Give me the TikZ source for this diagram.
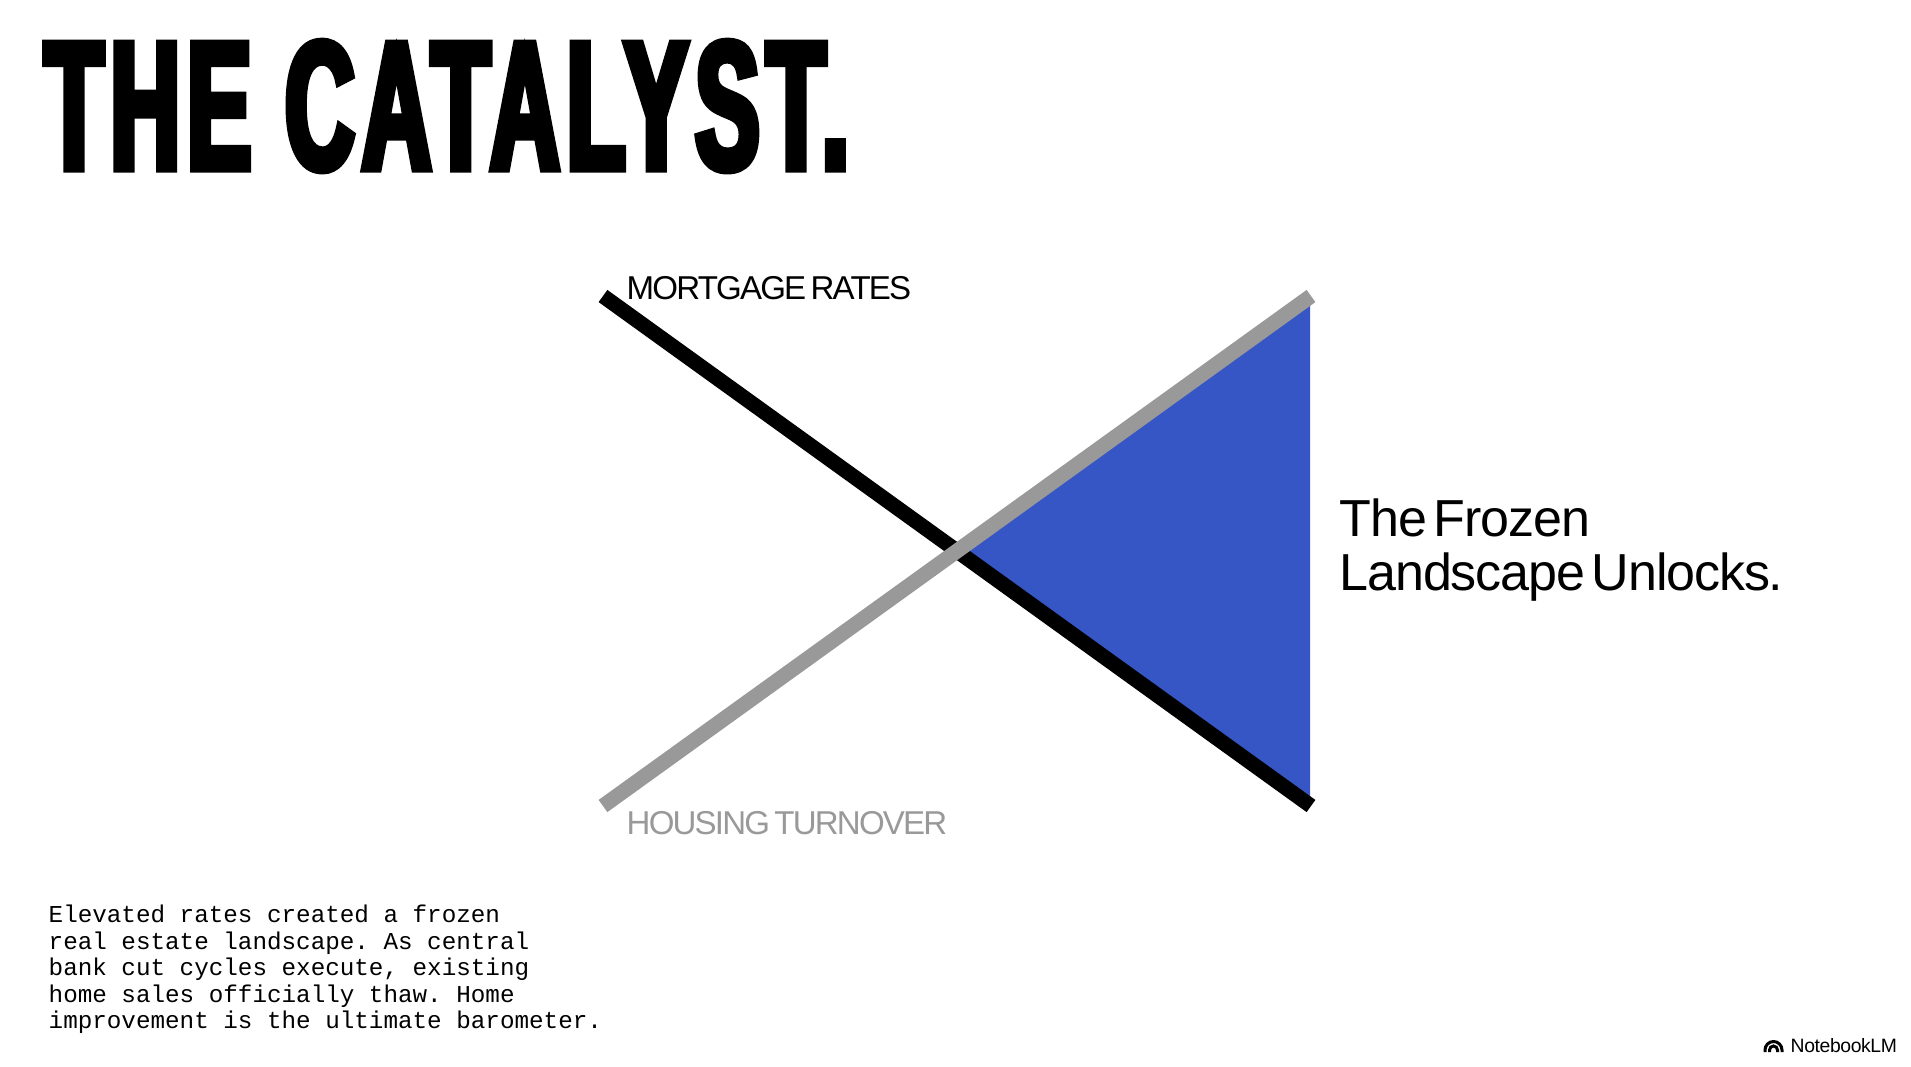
\documentclass[tikz,border=0pt]{standalone}
\usepackage{fontspec}
\setmainfont{Liberation Sans}
\newfontfamily\titlefont[FakeStretch=0.525,FakeBold=4,LetterSpace=4]{Liberation Sans Bold}
\newfontfamily\labelfont[LetterSpace=-5.5,WordSpace=0.6]{Liberation Sans}
\newfontfamily\headfont[LetterSpace=-2.2,WordSpace=0.5]{Liberation Sans}
\newfontfamily\logofont[LetterSpace=-2]{Liberation Sans}
\newfontfamily\bodyfont{Liberation Mono}

\definecolor{crossblue}{HTML}{3756C5}
\definecolor{turnovergray}{HTML}{999999}

\tikzset{
    textnode/.style={inner sep=0pt, anchor=base west},
    trendline/.style={line width=0.15cm},
    logoarc/.style={line width=0.03cm, black},
}

\begin{document}
\frenchspacing
\begin{tikzpicture}[x=0.01cm,y=-0.01cm]
    % Page size, same as the reference
    \useasboundingbox (0,0) rectangle (1911,1066);

    % Ends of the two lines and the crossing
    \coordinate (ratesstart) at (603,296);
    \coordinate (ratesend) at (1311,806);
    \coordinate (turnstart) at (603,806);
    \coordinate (turnend) at (1311,296);
    \coordinate (cross) at (957,551);

    % Blue wedge goes under the lines
    \fill[crossblue] (cross) -- (1310,296) -- (1310,806) -- cycle;

    \draw[trendline, black] (ratesstart) -- (ratesend);
    \draw[trendline, turnovergray] (turnstart) -- (turnend);

    % Title
    \node[textnode] (title) at (44,169) {\titlefont\fontsize{52pt}{52pt}\selectfont THE CATALYST.};

    % Line labels
    \node[textnode] (rateslabel) at (626,299) {\labelfont\fontsize{9.4pt}{10pt}\selectfont MORTGAGE RATES};
    \node[textnode, text=turnovergray] (turnlabel) at (626,834) {\labelfont\fontsize{9.4pt}{10pt}\selectfont HOUSING TURNOVER};

    % Right hand text
    \node[textnode] (unlock1) at (1339,536) {\headfont\fontsize{14.8pt}{15pt}\selectfont The Frozen};
    \node[textnode] (unlock2) at (1339,590) {\headfont\fontsize{14.8pt}{15pt}\selectfont Landscape Unlocks.};

    % Body text, one node per line
    \foreach \i/\txt in {0/{Elevated rates created a frozen},
                         1/{real estate landscape. As central},
                         2/{bank cut cycles execute, existing},
                         3/{home sales officially thaw. Home},
                         4/{improvement is the ultimate barometer.}} {
        \node[textnode] (body\i) at (48,{922.5+\i*26.6}) {\bodyfont\fontsize{6.9pt}{7pt}\selectfont \txt};
    }

    % Logo in the corner
    \node[textnode] (logo) at (1790,1052) {\logofont\fontsize{5.5pt}{6pt}\selectfont NotebookLM};
    \foreach \r in {4,8.5} {
        \draw[logoarc] ({1773.5-\r},1052) -- ++(0,-2) arc[start angle=180, end angle=0, radius=\r*0.01cm] -- ++(0,2);
    }
\end{tikzpicture}
\end{document}
